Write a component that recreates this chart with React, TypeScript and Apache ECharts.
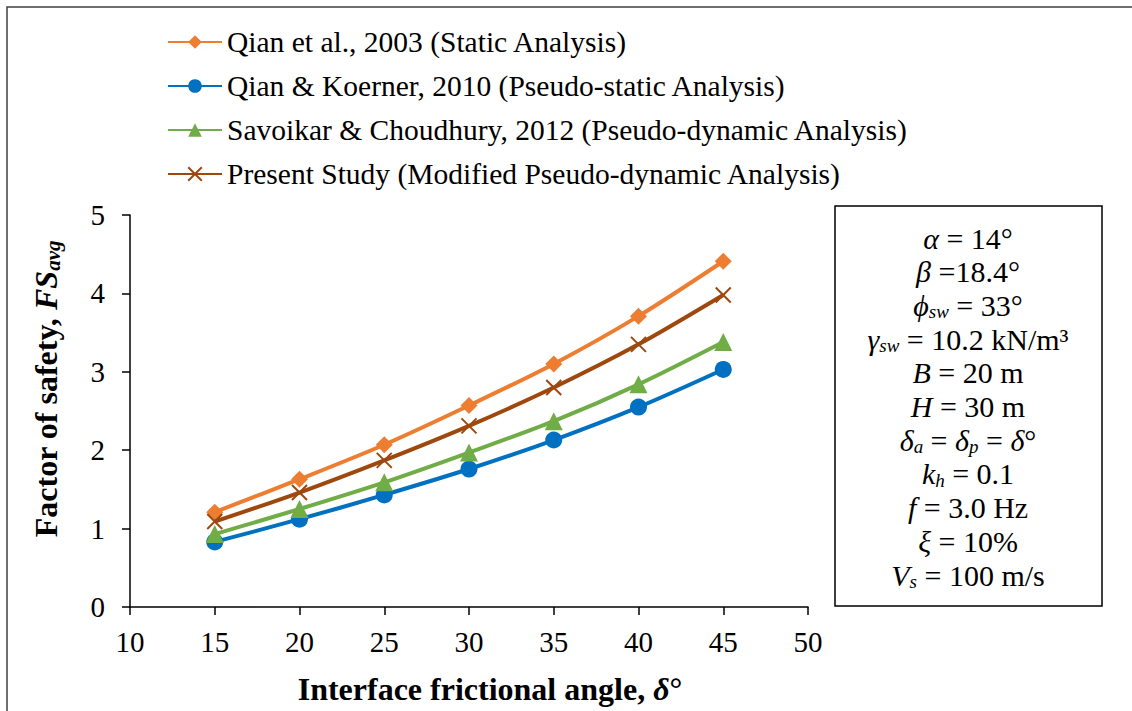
import React, { useEffect, useRef } from "react";
import * as echarts from "echarts";

const angles = [15, 20, 25, 30, 35, 40, 45];
const qian2003 = [1.21, 1.63, 2.07, 2.57, 3.1, 3.71, 4.41];
const qianKoerner2010 = [0.83, 1.12, 1.43, 1.76, 2.13, 2.55, 3.03];
const savoikar2012 = [0.93, 1.25, 1.59, 1.97, 2.37, 2.84, 3.38];
const presentStudy = [1.09, 1.46, 1.87, 2.31, 2.8, 3.35, 3.98];

const seriesNames = [
  "Qian et al., 2003 (Static Analysis)",
  "Qian & Koerner, 2010 (Pseudo-static Analysis)",
  "Savoikar & Choudhury, 2012 (Pseudo-dynamic Analysis)",
  "Present Study (Modified Pseudo-dynamic Analysis)",
];
const seriesColors = ["#ED7D31", "#0070C0", "#70AD47", "#9E480E"];

const boxLines = [
  "{i|α} = 14°",
  "{i|β} =18.4°",
  "{i|ϕ}{s|sw} = 33°",
  "{i|γ}{s|sw} = 10.2 kN/m³",
  "{i|B} = 20 m",
  "{i|H} = 30 m",
  "{i|δ}{s|a} = {i|δ}{s|p} = {i|δ}°",
  "{i|k}{s|h} = 0.1",
  "{i|f} = 3.0 Hz",
  "{i|ξ} = 10%",
  "{i|V}{s|s} = 100 m/s",
];

const SERIF = "Liberation Serif";

export default function App() {
  const ref = useRef<HTMLDivElement>(null);
  useEffect(() => {
    if (!ref.current) return;
    const chart = echarts.init(ref.current, undefined, { renderer: "svg" });
    const mk = (d: number[]) => angles.map((a, i) => [a, d[i]]);
    const datasets = [qian2003, qianKoerner2010, savoikar2012, presentStudy];
    const symbols = [
      "diamond",
      "circle",
      "triangle",
      "path://M0,0L10,10M10,0L0,10",
    ];
    const sizes = [17, 17, 18, 15];
    const boxTop = 238;
    const boxStep = 33.7;
    const richBox = {
      n: { fontFamily: SERIF, fontSize: 30, color: "#000", lineHeight: 32 },
      i: { fontFamily: SERIF, fontSize: 30, fontStyle: "italic", color: "#000", lineHeight: 32 },
      s: { fontFamily: SERIF, fontSize: 19, fontStyle: "italic", color: "#000", lineHeight: 12, verticalAlign: "bottom" },
    };
    const wrapPlain = (t: string) =>
      t.split(/(\{[a-z]+\|[^}]*\})/).filter((p) => p.length > 0)
        .map((p) => (p.startsWith("{") ? p : `{n|${p}}`)).join("");
    chart.setOption({
      animation: false,
      backgroundColor: "#fff",
      legend: {
        orient: "vertical",
        left: 167,
        top: 26,
        padding: 0,
        itemWidth: 54,
        itemHeight: 17,
        itemGap: 12,
        textStyle: { fontFamily: SERIF, fontSize: 29.5, color: "#000", lineHeight: 32 },
        data: seriesNames,
      },
      grid: { left: 130, right: 324, top: 215, bottom: 104 },
      xAxis: {
        type: "value",
        min: 10,
        max: 50,
        interval: 5,
        splitLine: { show: false },
        axisLine: { lineStyle: { color: "#000", width: 1.5 } },
        axisTick: { length: 8, lineStyle: { color: "#000", width: 1.5 } },
        axisLabel: { fontFamily: SERIF, fontSize: 29, color: "#000", margin: 20 },
      },
      yAxis: {
        type: "value",
        min: 0,
        max: 5,
        interval: 1,
        splitLine: { show: false },
        axisLine: { show: true, lineStyle: { color: "#000", width: 1.5 } },
        axisTick: { show: true, length: 8, lineStyle: { color: "#000", width: 1.5 } },
        axisLabel: { fontFamily: SERIF, fontSize: 29, color: "#000", margin: 25 },
      },
      series: datasets.map((d, k) => ({
        name: seriesNames[k],
        type: "line",
        data: mk(d),
        smooth: 0.3,
        symbol: symbols[k],
        symbolSize: sizes[k],
        lineStyle: { color: seriesColors[k], width: 4 },
        itemStyle: k === 3
          ? { color: seriesColors[k], borderColor: seriesColors[k], borderWidth: 2 }
          : { color: seriesColors[k] },
        z: 2 + k,
      })),
      graphic: [
        {
          type: "rect",
          z: -10,
          shape: { x: 7, y: 7, width: 1300, height: 900 },
          style: { fill: "none", stroke: "#404040", lineWidth: 1.5 },
        },
        {
          type: "rect",
          shape: { x: 835, y: 206, width: 267, height: 400 },
          style: { fill: "#fff", stroke: "#000", lineWidth: 1.5 },
        },
        ...boxLines.map((t, i) => ({
          type: "text",
          x: 968,
          y: boxTop + i * boxStep,
          z: 10,
          style: {
            text: wrapPlain(t),
            align: "center",
            verticalAlign: "middle",
            fontFamily: SERIF,
            fontSize: 30,
            fill: "#000",
            rich: richBox,
          },
        })),
        {
          type: "text",
          x: 46,
          y: 389,
          rotation: Math.PI / 2,
          style: {
            text: "{b|Factor of safety, }{bi|FS}{s|avg}",
            align: "center",
            verticalAlign: "middle",
            rich: {
              b: { fontFamily: SERIF, fontSize: 32, fontWeight: "bold", color: "#000", lineHeight: 34 },
              bi: { fontFamily: SERIF, fontSize: 32, fontWeight: "bold", fontStyle: "italic", color: "#000", lineHeight: 34 },
              s: { fontFamily: SERIF, fontSize: 21, fontWeight: "bold", fontStyle: "italic", color: "#000", lineHeight: 14, verticalAlign: "bottom" },
            },
          },
        },
        {
          type: "text",
          x: 490,
          y: 689,
          style: {
            text: "{b|Interface frictional angle, }{bi|δ}{b|°}",
            align: "center",
            verticalAlign: "middle",
            rich: {
              b: { fontFamily: SERIF, fontSize: 32, fontWeight: "bold", color: "#000", lineHeight: 34 },
              bi: { fontFamily: SERIF, fontSize: 32, fontWeight: "bold", fontStyle: "italic", color: "#000", lineHeight: 34 },
            },
          },
        },
      ],
    });
    return () => chart.dispose();
  }, []);
  return (
    <div
      ref={ref}
      style={{ position: "fixed", left: 0, top: 0, width: 1132, height: 711, background: "#fff" }}
    />
  );
}
